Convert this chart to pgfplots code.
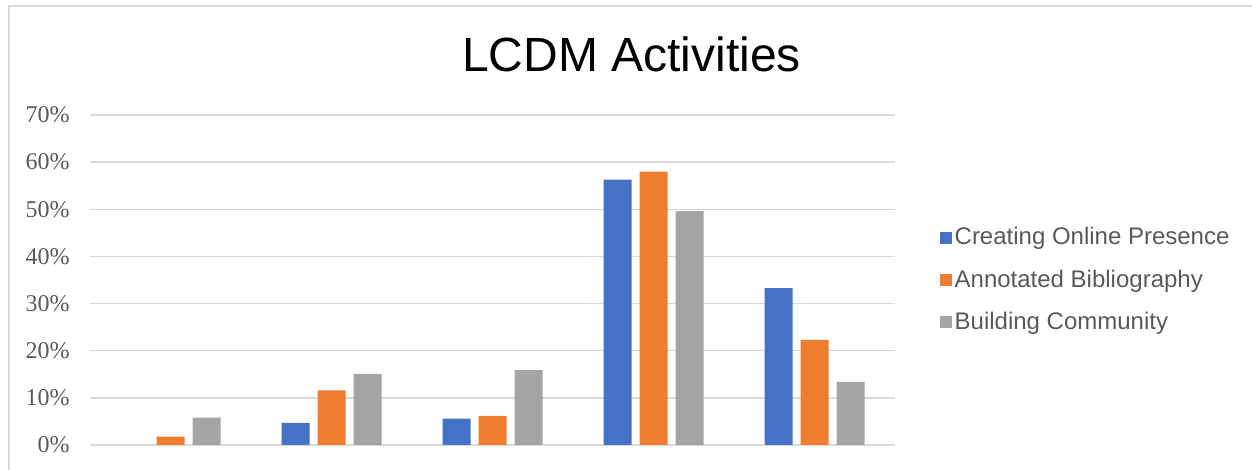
\documentclass[border=0pt]{standalone}
\usepackage{fontspec}
\setmainfont{Liberation Sans}
\newfontfamily\timesf{Liberation Serif}
\usepackage{pgfplots}
\pgfplotsset{compat=1.18}
\definecolor{cblue}{HTML}{4472C4}
\definecolor{corange}{HTML}{ED7D31}
\definecolor{cgray}{HTML}{A5A5A5}
\definecolor{gridc}{HTML}{D9D9D9}
\definecolor{txt}{HTML}{595959}
\begin{document}
\begin{tikzpicture}
\useasboundingbox (0,0) rectangle (626pt,235pt);
\draw[color=gridc, line width=1pt] (4.25pt,0) -- (4.25pt,231.75pt) -- (626pt,231.75pt);
\node[anchor=base, inner sep=0pt, font=\fontsize{24}{28}\selectfont] at (315.75pt,199.2pt) {LCDM Activities};
\begin{axis}[
  at={(45pt,12.5pt)}, anchor=south west,
  scale only axis, width=402.5pt, height=165pt,
  ybar=4pt, bar width=14pt,
  xmin=-0.5, xmax=4.5, ymin=0, ymax=70,
  axis line style={draw=none},
  xtick=\empty,
  ytick={0,10,...,70},
  ymajorgrids, major grid style={color=gridc, line width=0.75pt},
  major tick length=0pt,
  /pgf/number format/assume math mode=true,
  yticklabel={\pgfmathprintnumber{\tick}\%},
  yticklabel style={font=\timesf\fontsize{12}{14}\selectfont, color=txt, anchor=east, inner sep=0pt, xshift=-10pt},
  legend style={at={(1.055,0.5)}, anchor=west, draw=none, fill=none, inner sep=0pt,
    font=\fontsize{12}{14}\selectfont, text=txt, row sep=8pt,
    nodes={inner sep=1.5pt}},
  legend cell align=left,
  legend image code/.code={\fill[#1] (0pt,-3pt) rectangle (6pt,3pt);},
]
\addplot[fill=cblue, draw=none] coordinates {(1,4.7) (2,5.6) (3,56.3) (4,33.3)};
\addplot[fill=corange, draw=none] coordinates {(0,1.8) (1,11.6) (2,6.2) (3,58.0) (4,22.3)};
\addplot[fill=cgray, draw=none] coordinates {(0,5.8) (1,15.1) (2,15.9) (3,49.6) (4,13.4)};
\legend{Creating Online Presence, Annotated Bibliography, Building Community}
\end{axis}
\end{tikzpicture}
\end{document}
